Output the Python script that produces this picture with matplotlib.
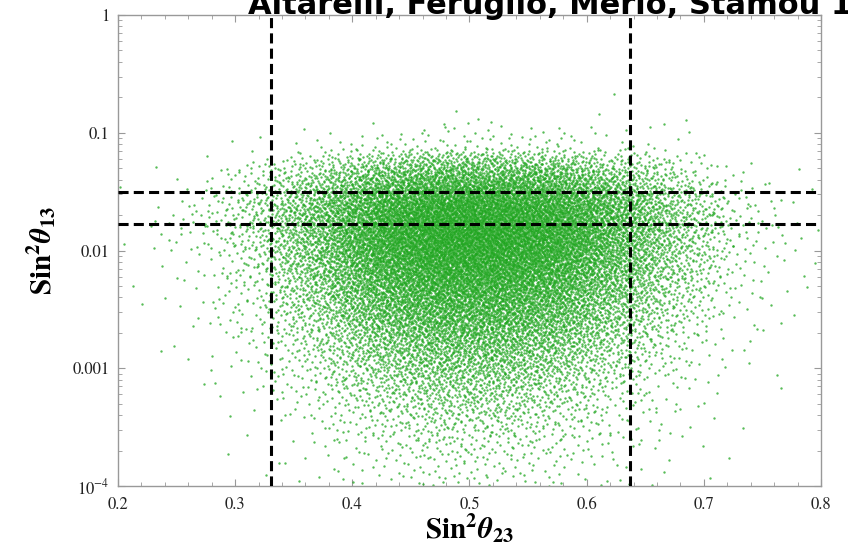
import numpy as np
import matplotlib
matplotlib.use("Agg")
import matplotlib.pyplot as plt
import matplotlib.ticker as mticker

# ================================
# DATA
# ================================
# density of the scatter cloud: points per cell, x bins of 0.05, log10(y) bins of 0.25
x_edges = [0.20, 0.25, 0.30, 0.35, 0.40, 0.45, 0.50, 0.55, 0.60, 0.65, 0.70, 0.75, 0.80]
logy_edges = [-4.0, -3.75, -3.5, -3.25, -3.0, -2.75, -2.5, -2.25, -2.0,
              -1.75, -1.5, -1.25, -1.0, -0.75, -0.5, -0.25, 0.0]
# rows listed from the top of the plot (log10 y = 0) down to the bottom (log10 y = -4)
counts_top_down = [
    [0, 0, 0, 0, 0, 0, 0, 0, 0, 0, 0, 0],
    [0, 0, 0, 0, 0, 0, 0, 0, 0, 0, 0, 0],
    [0, 0, 0, 0, 0, 0, 0, 0, 0, 0, 0, 0],
    [0, 0, 0, 0, 1, 2, 2, 2, 1, 0, 0, 0],
    [0, 0, 3, 10, 25, 35, 35, 30, 15, 4, 0, 0],
    [0, 10, 50, 170, 360, 470, 470, 400, 230, 80, 12, 1],
    [2, 25, 110, 330, 650, 820, 820, 700, 440, 180, 35, 4],
    [2, 22, 100, 340, 720, 900, 900, 760, 450, 180, 35, 6],
    [2, 15, 75, 280, 600, 780, 780, 640, 360, 140, 25, 4],
    [1, 10, 50, 200, 450, 600, 600, 480, 260, 95, 15, 3],
    [0, 6, 30, 130, 320, 440, 440, 340, 170, 60, 10, 2],
    [0, 4, 16, 80, 200, 290, 290, 210, 100, 30, 5, 0],
    [0, 2, 8, 45, 120, 180, 180, 125, 55, 15, 3, 0],
    [0, 1, 4, 24, 65, 100, 100, 65, 28, 8, 2, 0],
    [0, 0, 2, 12, 32, 50, 50, 34, 14, 4, 1, 0],
    [0, 0, 1, 6, 15, 25, 25, 16, 7, 2, 0, 0],
]

# 3 sigma bounds drawn as dashed lines
s23_bounds = [0.331, 0.637]
s13_bounds = [0.0169, 0.0313]

x_ticks = [0.2, 0.3, 0.4, 0.5, 0.6, 0.7, 0.8]
y_ticks = [1e-4, 1e-3, 1e-2, 1e-1, 1]
y_tick_labels = [r"$10^{-4}$", "0.001", "0.01", "0.1", "1"]

title_text = "Altarelli, Feruglio, Merlo, Stamou 12"


def halton(n, base):
    idx = np.arange(1, n + 1)
    out = np.zeros(n)
    f = 1.0
    while idx.any():
        f /= base
        out += f * (idx % base)
        idx = idx // base
    return out


# ================================
# POINTS FROM THE DENSITY GRID
# ================================
counts = np.array(counts_top_down[::-1], dtype=float)
ncx, ncy = counts.shape[1], counts.shape[0]
cmax = counts.max()
n_cand = int(cmax * ncx * ncy)

x_lo, x_hi = x_edges[0], x_edges[-1]
t_lo, t_hi = logy_edges[0], logy_edges[-1]
cx = x_lo + halton(n_cand, 2) * (x_hi - x_lo)
ct = t_lo + halton(n_cand, 3) * (t_hi - t_lo)
acc = halton(n_cand, 5)

# smooth lookup of the grid between cell centres
fx = np.clip((cx - x_lo) / (x_edges[1] - x_edges[0]) - 0.5, 0, ncx - 1)
fy = np.clip((ct - t_lo) / (logy_edges[1] - logy_edges[0]) - 0.5, 0, ncy - 1)
i0 = np.minimum(np.floor(fx).astype(int), ncx - 2)
j0 = np.minimum(np.floor(fy).astype(int), ncy - 2)
wx = fx - i0
wy = fy - j0
dens = ((1 - wx) * (1 - wy) * counts[j0, i0] + wx * (1 - wy) * counts[j0, i0 + 1]
        + (1 - wx) * wy * counts[j0 + 1, i0] + wx * wy * counts[j0 + 1, i0 + 1])
keep = acc < dens / cmax
xs = cx[keep]
ys = 10 ** ct[keep]

# ================================
# PLOT
# ================================
plt.rcParams["mathtext.fontset"] = "stix"
plt.rcParams["font.family"] = ["STIXGeneral", "DejaVu Serif"]

fig = plt.figure(figsize=(8.48, 5.6), dpi=100)
ax = fig.add_axes([118 / 848, 1 - 486 / 560, (821 - 118) / 848, (486 - 15) / 560])

ax.scatter(xs, ys, s=3, marker="o", linewidths=0, color="#1fa61f", alpha=0.75,
           rasterized=True, zorder=2)

dash = (0, (3.3, 1.7))
for xv in s23_bounds:
    ax.axvline(xv, color="black", linewidth=2.2, linestyle=dash, zorder=4)
for yv in s13_bounds:
    ax.axhline(yv, color="black", linewidth=2.2, linestyle=dash, zorder=4)

ax.set_xlim(0.2, 0.8)
ax.set_yscale("log")
ax.set_ylim(1e-4, 1)

ax.set_xticks(x_ticks)
ax.set_xticklabels([f"{t:.1f}" for t in x_ticks])
ax.xaxis.set_minor_locator(mticker.MultipleLocator(0.02))
ax.set_yticks(y_ticks)
ax.set_yticklabels(y_tick_labels)
ax.yaxis.set_minor_locator(mticker.LogLocator(base=10, subs=np.arange(2, 10)))
ax.yaxis.set_minor_formatter(mticker.NullFormatter())

for sp in ax.spines.values():
    sp.set_color("#999999")
    sp.set_linewidth(1.0)
ax.tick_params(which="both", direction="in", top=True, right=True, color="#999999",
               labelcolor="#222222", labelsize=12)
ax.tick_params(which="major", length=5, width=0.8)
ax.tick_params(axis="x", which="major", pad=8)
ax.tick_params(axis="y", which="major", pad=6)
ax.tick_params(which="minor", length=3, width=0.6)

ax.set_xlabel(r"$\mathbf{Sin}^{\mathbf{2}}\boldsymbol{\theta}_{\mathbf{23}}$", fontsize=21, labelpad=0)
ax.set_ylabel(r"$\mathbf{Sin}^{\mathbf{2}}\boldsymbol{\theta}_{\mathbf{13}}$", fontsize=21, labelpad=10)

fig.text(248 / 848, 1 - 14 / 560, title_text, fontsize=22, fontweight="bold",
         family="DejaVu Sans", color="black", ha="left", va="baseline")

fig.savefig("out.png", dpi=100, facecolor="white")
